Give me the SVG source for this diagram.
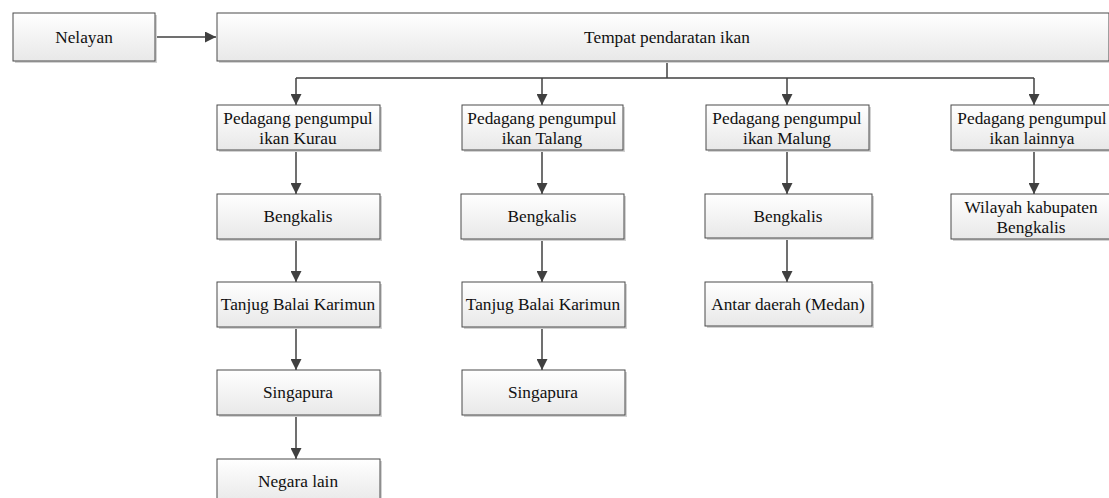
<svg xmlns="http://www.w3.org/2000/svg" width="1109" height="498" viewBox="0 0 1109 498">
<style>
.box{fill:url(#g);stroke:#4a4a4a;stroke-width:1}
.sh{fill:#d2d2d2}
.t{font-family:"Liberation Serif","Times New Roman",serif;font-size:17.3px;fill:#111;text-anchor:middle}
.c{fill:none;stroke:#404040;stroke-width:1.5}
</style>
<defs>
<linearGradient id="g" x1="0" y1="0" x2="0" y2="1">
<stop offset="0" stop-color="#ffffff"/>
<stop offset="1" stop-color="#e8e8e8"/>
</linearGradient>
<marker id="b" viewBox="0 0 10 10" refX="10" refY="5" markerWidth="11" markerHeight="11" orient="auto" markerUnits="userSpaceOnUse">
<path d="M0,0L10,5L0,10z" fill="#404040"/>
</marker>
</defs>
<g id="connectors">
<path class="c" d="M155,37H216" marker-end="url(#b)"/>
<path class="c" d="M667,61V78"/>
<path class="c" d="M296,78H1034"/>
<path class="c" d="M296,78V105" marker-end="url(#b)"/>
<path class="c" d="M542,78V105" marker-end="url(#b)"/>
<path class="c" d="M787,78V105" marker-end="url(#b)"/>
<path class="c" d="M1034,78V105" marker-end="url(#b)"/>
<path class="c" d="M296,150V194" marker-end="url(#b)"/>
<path class="c" d="M296,239V282" marker-end="url(#b)"/>
<path class="c" d="M296,327V370" marker-end="url(#b)"/>
<path class="c" d="M296,415V459" marker-end="url(#b)"/>
<path class="c" d="M542,150V194" marker-end="url(#b)"/>
<path class="c" d="M542,239V282" marker-end="url(#b)"/>
<path class="c" d="M542,327V370" marker-end="url(#b)"/>
<path class="c" d="M787,150V194" marker-end="url(#b)"/>
<path class="c" d="M787,239V282" marker-end="url(#b)"/>
<path class="c" d="M1034,150V194" marker-end="url(#b)"/>
</g>
<g id="nelayan"><rect class="sh" x="15" y="15" width="142" height="48"/><rect class="box" x="13" y="13" width="142" height="48"/><text class="t" x="84" y="43">Nelayan</text></g>
<g id="tempat"><rect class="sh" x="219" y="15" width="892" height="48"/><rect class="box" x="217" y="13" width="892" height="48"/><text class="t" x="667" y="43">Tempat pendaratan ikan</text></g>

<g id="kurau"><rect class="sh" x="219" y="107" width="163" height="45"/><rect class="box" x="217" y="105" width="163" height="45"/><text class="t" x="298" y="124">Pedagang pengumpul</text><text class="t" x="298" y="144">ikan Kurau</text></g>
<g id="talang"><rect class="sh" x="464" y="107" width="161" height="45"/><rect class="box" x="462" y="105" width="161" height="45"/><text class="t" x="542" y="124">Pedagang pengumpul</text><text class="t" x="542" y="144">ikan Talang</text></g>
<g id="malung"><rect class="sh" x="708" y="107" width="163" height="45"/><rect class="box" x="706" y="105" width="163" height="45"/><text class="t" x="787" y="124">Pedagang pengumpul</text><text class="t" x="787" y="144">ikan Malung</text></g>
<g id="lainnya"><rect class="sh" x="953" y="107" width="160" height="45"/><rect class="box" x="951" y="105" width="160" height="45"/><text class="t" x="1032" y="124">Pedagang pengumpul</text><text class="t" x="1032" y="144">ikan lainnya</text></g>

<g id="k-bengkalis"><rect class="sh" x="219" y="196" width="163" height="45"/><rect class="box" x="217" y="194" width="163" height="45"/><text class="t" x="298" y="222">Bengkalis</text></g>
<g id="k-tanjug"><rect class="sh" x="219" y="284" width="163" height="45"/><rect class="box" x="217" y="282" width="163" height="45"/><text class="t" x="298" y="310">Tanjug Balai Karimun</text></g>
<g id="k-singapura"><rect class="sh" x="219" y="372" width="163" height="45"/><rect class="box" x="217" y="370" width="163" height="45"/><text class="t" x="298" y="398">Singapura</text></g>
<g id="k-negara"><rect class="sh" x="219" y="461" width="163" height="45"/><rect class="box" x="217" y="459" width="163" height="45"/><text class="t" x="298" y="487">Negara lain</text></g>

<g id="t-bengkalis"><rect class="sh" x="463" y="196" width="163" height="45"/><rect class="box" x="461" y="194" width="163" height="45"/><text class="t" x="542" y="222">Bengkalis</text></g>
<g id="t-tanjug"><rect class="sh" x="464" y="284" width="163" height="45"/><rect class="box" x="462" y="282" width="163" height="45"/><text class="t" x="543" y="310">Tanjug Balai Karimun</text></g>
<g id="t-singapura"><rect class="sh" x="464" y="372" width="163" height="45"/><rect class="box" x="462" y="370" width="163" height="45"/><text class="t" x="543" y="398">Singapura</text></g>

<g id="m-bengkalis"><rect class="sh" x="707" y="196" width="167" height="44"/><rect class="box" x="705" y="194" width="167" height="44"/><text class="t" x="788" y="222">Bengkalis</text></g>
<g id="m-antar"><rect class="sh" x="707" y="284" width="167" height="44"/><rect class="box" x="705" y="282" width="167" height="44"/><text class="t" x="788" y="310">Antar daerah (Medan)</text></g>

<g id="l-wilayah"><rect class="sh" x="953" y="196" width="160" height="45"/><rect class="box" x="951" y="194" width="160" height="45"/><text class="t" x="1031" y="213">Wilayah kabupaten</text><text class="t" x="1031" y="233">Bengkalis</text></g>
</svg>
